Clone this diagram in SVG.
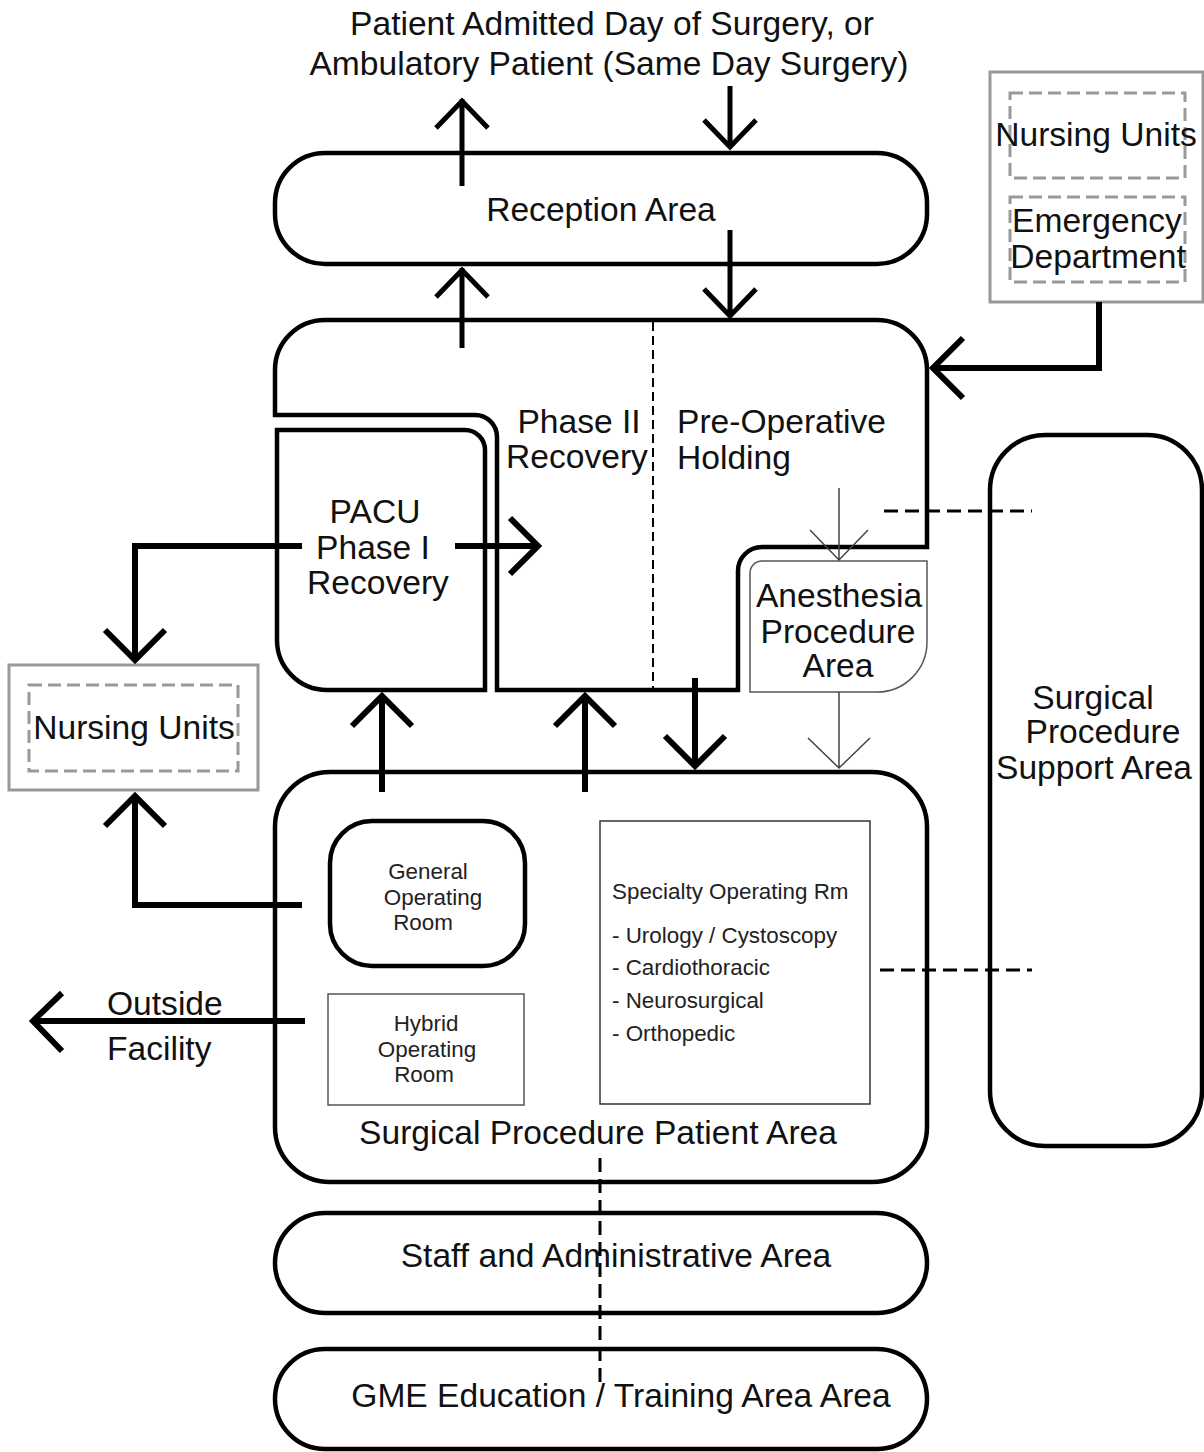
<svg xmlns="http://www.w3.org/2000/svg" width="1204" height="1452" viewBox="0 0 1204 1452">
<style>
text{font-family:"Liberation Sans",Arial,sans-serif;fill:#111}
.big{font-size:33.6px}
.sm{font-size:22.4px;fill:#222}
.mid{text-anchor:middle}
.area{fill:none;stroke:#000;stroke-width:4.5}
.thinbox{fill:none;stroke:#555;stroke-width:1.5}
.gray{fill:none;stroke:#999;stroke-width:3}
.gdash{fill:none;stroke:#999;stroke-width:3;stroke-dasharray:13 6}
.flow{fill:none;stroke:#000;stroke-width:6;stroke-linejoin:miter}
.thin{fill:none;stroke:#444;stroke-width:1.5}
.dash{fill:none;stroke:#000;stroke-width:3;stroke-dasharray:14 7}
.dash2{fill:none;stroke:#000;stroke-width:2;stroke-dasharray:9 5}
</style>
<rect width="1204" height="1452" fill="#fff"/>

<g id="title">
<text class="big mid" x="612" y="35">Patient Admitted Day of Surgery, or</text>
<text class="big mid" x="609" y="75">Ambulatory Patient (Same Day Surgery)</text>
</g>

<g id="reception">
<rect class="area" x="275" y="153" width="652" height="111" rx="50"/>
<text class="big mid" x="601" y="221">Reception Area</text>
</g>

<g id="preop">
<path class="area" d="M275,415 L275,370 A50,50 0 0 1 325,320 L877,320 A50,50 0 0 1 927,370 L927,547 L762,547 A24,24 0 0 0 738,571 L738,690 L497,690 L497,437 A22,22 0 0 0 475,415 Z"/>
<line class="dash2" x1="653" y1="322" x2="653" y2="688"/>
<text class="big mid" x="579" y="433">Phase II</text>
<text class="big mid" x="577" y="468">Recovery</text>
<text class="big" x="677" y="433">Pre-Operative</text>
<text class="big" x="677" y="469">Holding</text>
</g>

<g id="pacu">
<path class="area" d="M277,430 L465,430 A20,20 0 0 1 485,450 L485,690 L327,690 A50,50 0 0 1 277,640 Z"/>
<text class="big mid" x="375" y="523">PACU</text>
<text class="big mid" x="373" y="559">Phase I</text>
<text class="big mid" x="378" y="594">Recovery</text>
</g>

<g id="anesthesia">
<path class="thinbox" d="M762,561 L927,561 L927,642 A50,50 0 0 1 877,692 L750,692 L750,573 A12,12 0 0 1 762,561 Z"/>
<text class="big mid" x="839" y="607">Anesthesia</text>
<text class="big mid" x="838" y="643">Procedure</text>
<text class="big mid" x="838" y="677">Area</text>
</g>

<g id="ext-top">
<rect class="gray" x="990" y="72" width="213" height="230"/>
<rect class="gdash" x="1010" y="93" width="175" height="85"/>
<rect class="gdash" x="1010" y="197" width="175" height="85"/>
<text class="big mid" x="1096" y="146">Nursing Units</text>
<text class="big mid" x="1097" y="232">Emergency</text>
<text class="big mid" x="1098" y="268">Department</text>
</g>

<g id="nursing-left">
<rect class="gray" x="9" y="665" width="249" height="125"/>
<rect class="gdash" x="29" y="685" width="209" height="86"/>
<text class="big mid" x="134" y="739">Nursing Units</text>
</g>

<g id="support">
<rect class="area" x="990" y="435" width="212" height="711" rx="55"/>
<text class="big mid" x="1093" y="709">Surgical</text>
<text class="big mid" x="1103" y="743">Procedure</text>
<text class="big mid" x="1094" y="779">Support Area</text>
</g>

<g id="patient-area">
<rect class="area" x="275" y="772" width="652" height="410" rx="55"/>
<text class="big mid" x="598" y="1144">Surgical Procedure Patient Area</text>
</g>

<g id="general-or">
<rect class="area" x="330" y="821" width="195" height="145" rx="42"/>
<text class="sm mid" x="428" y="879">General</text>
<text class="sm mid" x="433" y="905">Operating</text>
<text class="sm mid" x="423" y="930">Room</text>
</g>

<g id="hybrid-or">
<rect class="thinbox" x="328" y="994" width="196" height="111"/>
<text class="sm mid" x="426" y="1031">Hybrid</text>
<text class="sm mid" x="427" y="1057">Operating</text>
<text class="sm mid" x="424" y="1082">Room</text>
</g>

<g id="specialty-or">
<rect class="thinbox" x="600" y="821" width="270" height="283" style="stroke:#333"/>
<text class="sm" x="612" y="899">Specialty Operating Rm</text>
<text class="sm" x="612" y="943">- Urology / Cystoscopy</text>
<text class="sm" x="612" y="975">- Cardiothoracic</text>
<text class="sm" x="612" y="1008">- Neurosurgical</text>
<text class="sm" x="612" y="1041">- Orthopedic</text>
</g>

<g id="outside">
<text class="big" x="107" y="1015">Outside</text>
<text class="big" x="107" y="1060">Facility</text>
</g>

<g id="staff">
<rect class="area" x="275" y="1213" width="652" height="100" rx="50"/>
<text class="big mid" x="616" y="1267">Staff and Administrative Area</text>
</g>

<g id="gme">
<rect class="area" x="275" y="1349" width="652" height="100" rx="50"/>
<text class="big mid" x="621" y="1407">GME Education / Training Area Area</text>
</g>

<g id="connectors">
<path class="flow" style="stroke-width:5" d="M462,186 L462,99 M436,128 L462,101 L488,128"/>
<path class="flow" style="stroke-width:5" d="M730,86 L730,148 M704,120 L730,147 L756,120"/>
<path class="flow" style="stroke-width:5" d="M462,348 L462,268 M436,297 L462,270 L488,297"/>
<path class="flow" style="stroke-width:5" d="M730,230 L730,316 M704,289 L730,316 L756,289"/>
<path class="flow" d="M1099,302 L1099,368 L932,368 M963,338 L933,368 L963,398"/>
<path class="flow" d="M455,546 L538,546 M510,518 L538,546 L510,574"/>
<path class="flow" d="M302,546 L135,546 L135,660 M105,630 L135,660 L165,630"/>
<path class="flow" d="M302,905 L135,905 L135,796 M105,826 L135,796 L165,826"/>
<path class="flow" d="M305,1021 L32,1021 M62,993 L33,1021 L62,1051"/>
<path class="flow" d="M382,792 L382,696 M352,726 L382,696 L412,726"/>
<path class="flow" d="M585,792 L585,696 M555,726 L585,696 L615,726"/>
<path class="flow" d="M695,678 L695,766 M665,736 L695,766 L725,736"/>
<path class="thin" d="M839,488 L839,560 M810,530 L839,560 L868,530"/>
<path class="thin" d="M839,692 L839,768 M808,738 L839,768 L870,738"/>
<line class="dash" x1="884" y1="511" x2="1032" y2="511"/>
<line class="dash" x1="880" y1="970" x2="1032" y2="970"/>
<line class="dash" x1="600" y1="1158" x2="600" y2="1385"/>
</g>
</svg>
